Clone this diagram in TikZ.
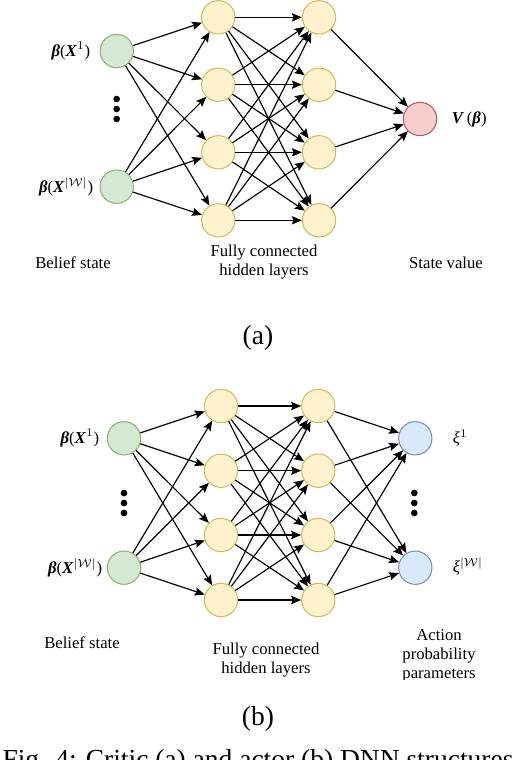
\documentclass[tikz,border=0pt]{standalone}
\usepackage{amsmath}
\usepackage{amsfonts}
\usepackage{fontspec}
\setmainfont{Liberation Serif}
\usetikzlibrary{arrows.meta}

\definecolor{inFill}{HTML}{D5E8D4}
\definecolor{inLine}{HTML}{82B366}
\definecolor{hidFill}{HTML}{FFF2CC}
\definecolor{hidLine}{HTML}{D6B656}
\definecolor{valFill}{HTML}{F8CECC}
\definecolor{valLine}{HTML}{B85450}
\definecolor{actFill}{HTML}{DAE8FC}
\definecolor{actLine}{HTML}{6C8EBF}

\newcommand{\bi}[1]{\textbf{\textit{#1}}}

\begin{document}
\begin{tikzpicture}[x=0.6pt, y=-0.6pt,
	every node/.style={font=\fontsize{10}{11.4}\selectfont},
	neuron/.style={shape=circle, minimum size=20pt, inner sep=0pt, line width=0.6pt},
	inp/.style={neuron, draw=inLine, fill=inFill},
	hid/.style={neuron, draw=hidLine, fill=hidFill},
	val/.style={neuron, draw=valLine, fill=valFill},
	act/.style={neuron, draw=actLine, fill=actFill},
	dot/.style={shape=circle, fill=black, inner sep=0pt, minimum size=4pt},
	conn/.style={-{Stealth[length=6pt, width=5pt, inset=1pt]}, line width=0.7pt},
	big/.style={font=\fontsize{16.5}{19}\selectfont}]

	\clip (0, 0) rectangle (516, 760);

	% (a) critic
	\node[inp] (ia1) at (116.7, 51)    {};
	\node[inp] (ia2) at (116.7, 186.7) {};
	\node[dot] (da1) at (116.7, 99)  {};
	\node[dot] (da2) at (116.7, 109) {};
	\node[dot] (da3) at (116.7, 119) {};
	\node[anchor=east] (la1) at (96, 51)  {\bi{β}(\bi{X}$^{1}$)};
	\node[anchor=east] (la2) at (99, 187) {\bi{β}(\bi{X}$^{|\mathcal{W}|}$)};

	\node[hid] (pa1) at (218.3, 17.3)  {};
	\node[hid] (pa2) at (218.3, 84.7)  {};
	\node[hid] (pa3) at (218.3, 152.3) {};
	\node[hid] (pa4) at (218.3, 220.3) {};

	\node[hid] (qa1) at (319, 17.3)  {};
	\node[hid] (qa2) at (319, 84.7)  {};
	\node[hid] (qa3) at (319, 152.3) {};
	\node[hid] (qa4) at (319, 220.3) {};

	\node[val] (va) at (420, 119) {};
	\node[anchor=west] (lva) at (446, 119) {\bi{V}\,(\bi{β})};

	\path[conn] (ia1) edge (pa1) edge (pa2) edge (pa3) edge (pa4);
	\path[conn] (ia2) edge (pa1) edge (pa2) edge (pa3) edge (pa4);
	\path[conn] (pa1) edge (qa1) edge (qa2) edge (qa3) edge (qa4);
	\path[conn] (pa2) edge (qa1) edge (qa2) edge (qa3) edge (qa4);
	\path[conn] (pa3) edge (qa1) edge (qa2) edge (qa3) edge (qa4);
	\path[conn] (pa4) edge (qa1) edge (qa2) edge (qa3) edge (qa4);
	\path[conn] (qa1) edge (va);
	\path[conn] (qa2) edge (va);
	\path[conn] (qa3) edge (va);
	\path[conn] (qa4) edge (va);

	\node (ta1) at (73, 263)  {Belief state};
	\node[align=center] (ta2) at (264, 262) {Fully connected\\hidden layers};
	\node (ta3) at (446, 263) {State value};
	\node[big] (capa) at (258, 338) {(a)};

	% (b) actor
	\node[inp] (ib1) at (124, 438.3) {};
	\node[inp] (ib2) at (124, 567.7) {};
	\node[dot] (db1) at (124, 493) {};
	\node[dot] (db2) at (124, 503) {};
	\node[dot] (db3) at (124, 513) {};
	\node[anchor=east] (lb1) at (105, 438) {\bi{β}(\bi{X}$^{1}$)};
	\node[anchor=east] (lb2) at (108, 568) {\bi{β}(\bi{X}$^{|\mathcal{W}|}$)};

	\node[hid] (pb1) at (221, 406)   {};
	\node[hid] (pb2) at (221, 470.7) {};
	\node[hid] (pb3) at (221, 535)   {};
	\node[hid] (pb4) at (221, 600)   {};

	\node[hid] (qb1) at (318.3, 406)   {};
	\node[hid] (qb2) at (318.3, 470.7) {};
	\node[hid] (qb3) at (318.3, 535)   {};
	\node[hid] (qb4) at (318.3, 600)   {};

	\node[act] (ob1) at (415.3, 438.3) {};
	\node[act] (ob2) at (415.3, 567.7) {};
	\node[dot] (dc1) at (414.3, 493) {};
	\node[dot] (dc2) at (414.3, 503) {};
	\node[dot] (dc3) at (414.3, 513) {};
	\node[anchor=west] (lo1) at (447, 438) {\textit{ξ}$^{1}$};
	\node[anchor=west] (lo2) at (447, 567) {\textit{ξ}$^{|\mathcal{W}|}$};

	\path[conn] (ib1) edge (pb1) edge (pb2) edge (pb3) edge (pb4);
	\path[conn] (ib2) edge (pb1) edge (pb2) edge (pb3) edge (pb4);
	\path[conn] (pb1) edge (qb1) edge (qb2) edge (qb3) edge (qb4);
	\path[conn] (pb2) edge (qb1) edge (qb2) edge (qb3) edge (qb4);
	\path[conn] (pb3) edge (qb1) edge (qb2) edge (qb3) edge (qb4);
	\path[conn] (pb4) edge (qb1) edge (qb2) edge (qb3) edge (qb4);
	\path[conn] (qb1) edge (ob1) edge (ob2);
	\path[conn] (qb2) edge (ob1) edge (ob2);
	\path[conn] (qb3) edge (ob1) edge (ob2);
	\path[conn] (qb4) edge (ob1) edge (ob2);

	\node (tb1) at (82, 643)  {Belief state};
	\node[align=center] (tb2) at (266, 660) {Fully connected\\hidden layers};
	\begin{scope}
		\clip (0, 0) rectangle (516, 679);
		\node[align=center] (tb3) at (439, 656) {Action\\probability\\parameters};
	\end{scope}
	\node[big] (capb) at (258, 719) {(b)};

	\node[big, anchor=base] (fig) at (258, 768) {Fig. 4: Critic (a) and actor (b) DNN structures};

\end{tikzpicture}
\end{document}
